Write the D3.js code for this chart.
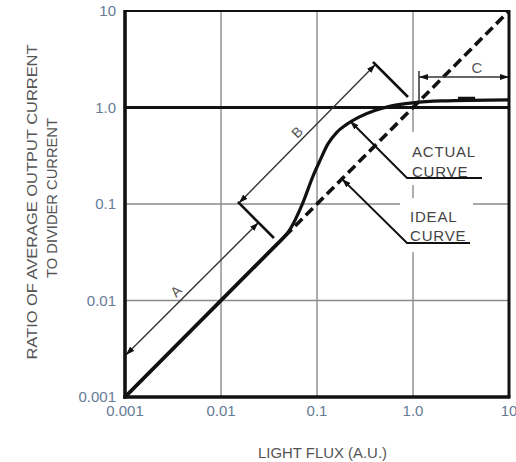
<!DOCTYPE html>
<html>
<head>
<meta charset="utf-8">
<script src="https://cdn.jsdelivr.net/npm/d3@7"></script>
<style>
body { margin: 0; background: #fff; }
text { font-family: "Liberation Sans", Arial, sans-serif; }
</style>
</head>
<body>
<svg id="chart" width="516" height="462"></svg>
<script>
"use strict";

// ticks (both axes are decades)
const tickValues = [0.001, 0.01, 0.1, 1, 10];
const xTickLabels = ["0.001", "0.01", "0.1", "1.0", "10"];
const yTickLabels = ["0.001", "0.01", "0.1", "1.0", "10"];

// ideal curve: output ratio = flux (solid part, then dashed)
const idealSolidX = [0.001, 0.046];
const idealDashX = [0.046, 10];

// actual curve
const actualX = [0.001, 0.003, 0.01, 0.02, 0.035, 0.045, 0.052, 0.071, 0.09, 0.107, 0.13, 0.16, 0.2, 0.27, 0.4, 0.6, 1.0, 2.0, 10];
const actualY = [0.001, 0.003, 0.01, 0.02, 0.035, 0.045, 0.054, 0.102, 0.19, 0.28, 0.42, 0.55, 0.66, 0.79, 0.93, 1.04, 1.12, 1.17, 1.2];
const thickBitX = [2.94, 4.43];
const thickBitY = [1.24, 1.24];

// dimension annotations (data units)
const dimA = [[0.00102, 0.00272], [0.0246, 0.0643]];
const dimB = [[0.0154, 0.1024], [0.406, 2.79]];
const extLow = [[0.0150, 0.105], [0.0356, 0.0444]];
const extHigh = [[0.383, 2.96], [0.887, 1.285]];
const extC = [[1.155, 2.39], [1.155, 1.11]];
const dimC = [[1.155, 2.07], [10, 2.07]];
const actualLeader = [[0.221, 0.724], [0.866, 0.186], [5.23, 0.186]];
const idealLeader = [[0.182, 0.182], [0.866, 0.0394], [3.93, 0.0394]];

const dimLabels = [
    { t: "A", x: 0.0034, y: 0.01254 },
    { t: "B", x: 0.0619, y: 0.557 }
];
const cLabel = { t: "C", x: 4.64, y: 2.28 };
const noteLabels = [
    { t: "ACTUAL", x: 0.976, y: 0.307 },
    { t: "CURVE", x: 0.976, y: 0.19 },
    { t: "IDEAL", x: 0.931, y: 0.0652 },
    { t: "CURVE", x: 0.931, y: 0.0414 }
];
// white boxes behind the notes (grid is broken there)
const noteBoxes = [
    [[0.733, 0.557], [4.22, 0.157]],
    [[0.733, 0.115], [4.22, 0.0318]]
];

const xScale = d3.scaleLog().domain([0.001, 10]).range([125, 509]);
const yScale = d3.scaleLog().domain([0.001, 10]).range([397, 11]);

const svg = d3.select("#chart");

const defs = svg.append("defs");
defs.append("marker")
    .attr("id", "arrow")
    .attr("markerUnits", "userSpaceOnUse")
    .attr("markerWidth", 9).attr("markerHeight", 6)
    .attr("refX", 9).attr("refY", 3)
    .attr("orient", "auto-start-reverse")
    .append("path")
    .attr("d", "M0,0 L9,3 L0,6 z")
    .attr("fill", "#111");

const pt = d => [xScale(d[0]), yScale(d[1])];
const poly = d3.line().x(d => xScale(d[0])).y(d => yScale(d[1]));

// grid
const grid = svg.append("g").attr("stroke", "#8a8a8a").attr("stroke-width", 1.4);
grid.selectAll(".vx")
    .data([0.01, 0.1, 1])
    .enter().append("line")
    .attr("x1", d => xScale(d)).attr("x2", d => xScale(d))
    .attr("y1", yScale(10)).attr("y2", yScale(0.001));
grid.selectAll(".hy")
    .data([0.01, 0.1])
    .enter().append("line")
    .attr("x1", xScale(0.001)).attr("x2", xScale(10))
    .attr("y1", d => yScale(d)).attr("y2", d => yScale(d));

// masks behind notes
svg.selectAll(".mask")
    .data(noteBoxes)
    .enter().append("rect")
    .attr("x", d => xScale(d[0][0]))
    .attr("y", d => yScale(d[0][1]))
    .attr("width", d => xScale(d[1][0]) - xScale(d[0][0]))
    .attr("height", d => yScale(d[1][1]) - yScale(d[0][1]))
    .attr("fill", "#fff");

// bold 1.0 line
svg.append("line")
    .attr("x1", xScale(0.001)).attr("x2", xScale(10))
    .attr("y1", yScale(1)).attr("y2", yScale(1))
    .attr("stroke", "#111").attr("stroke-width", 3);

// ideal curve
const ideal = d3.line().x(d => xScale(d)).y(d => yScale(d));
svg.append("path")
    .attr("d", ideal(idealSolidX))
    .attr("fill", "none").attr("stroke", "#111").attr("stroke-width", 3.6);
svg.append("path")
    .attr("d", ideal(idealDashX))
    .attr("fill", "none").attr("stroke", "#111").attr("stroke-width", 3.6)
    .attr("stroke-dasharray", "10,5");

// actual curve
const actual = actualX.map((x, i) => [x, actualY[i]]);
const curveLine = d3.line()
    .x(d => xScale(d[0])).y(d => yScale(d[1]))
    .curve(d3.curveMonotoneX);
svg.append("path")
    .attr("d", curveLine(actual))
    .attr("fill", "none").attr("stroke", "#111").attr("stroke-width", 3.2);
svg.append("path")
    .attr("d", poly(thickBitX.map((x, i) => [x, thickBitY[i]])))
    .attr("stroke", "#111").attr("stroke-width", 3.5);

// dimension lines
[dimA, dimB, dimC].forEach(d => {
    svg.append("path")
        .attr("d", poly(d))
        .attr("fill", "none").attr("stroke", "#333").attr("stroke-width", 1.4)
        .attr("marker-start", "url(#arrow)")
        .attr("marker-end", "url(#arrow)");
});
[extLow, extHigh].forEach(d => {
    svg.append("path")
        .attr("d", poly(d))
        .attr("fill", "none").attr("stroke", "#111").attr("stroke-width", 2.6);
});
svg.append("path")
    .attr("d", poly(extC))
    .attr("fill", "none").attr("stroke", "#222").attr("stroke-width", 1.4);

// leaders to the curves
[actualLeader, idealLeader].forEach(d => {
    svg.append("path")
        .attr("d", poly(d))
        .attr("fill", "none").attr("stroke", "#111").attr("stroke-width", 2)
        .attr("marker-start", "url(#arrow)");
});

// frame
const x0 = xScale(0.001), x1 = xScale(10), y0 = yScale(0.001), y1 = yScale(10);
svg.append("line").attr("x1", x0).attr("x2", x1).attr("y1", y1).attr("y2", y1)
    .attr("stroke", "#111").attr("stroke-width", 2);
svg.append("line").attr("x1", x1).attr("x2", x1).attr("y1", y1 - 1).attr("y2", y0)
    .attr("stroke", "#111").attr("stroke-width", 3);
svg.append("line").attr("x1", x0).attr("x2", x0).attr("y1", y1 - 1).attr("y2", y0 + 1.8)
    .attr("stroke", "#111").attr("stroke-width", 3.6);
svg.append("line").attr("x1", x0 - 1.8).attr("x2", x1 + 1.5).attr("y1", y0).attr("y2", y0)
    .attr("stroke", "#111").attr("stroke-width", 3.6);

// tick labels
svg.selectAll(".ytl")
    .data(tickValues)
    .enter().append("text")
    .attr("x", 116)
    .attr("y", d => yScale(d))
    .attr("dy", "0.36em")
    .attr("text-anchor", "end")
    .style("font-size", "15px")
    .attr("fill", "#667a96")
    .text((d, i) => yTickLabels[i]);
svg.selectAll(".xtl")
    .data(tickValues)
    .enter().append("text")
    .attr("x", d => xScale(d))
    .attr("y", 416)
    .attr("text-anchor", "middle")
    .style("font-size", "15px")
    .attr("fill", "#667a96")
    .text((d, i) => xTickLabels[i]);

// annotation letters
svg.selectAll(".dl")
    .data(dimLabels)
    .enter().append("text")
    .attr("transform", d => "translate(" + pt([d.x, d.y]) + ") rotate(-45)")
    .attr("text-anchor", "middle")
    .attr("dy", "0.36em")
    .style("font-size", "14px")
    .attr("fill", "#555")
    .text(d => d.t);
svg.append("text")
    .attr("x", xScale(cLabel.x)).attr("y", yScale(cLabel.y))
    .attr("text-anchor", "middle")
    .style("font-size", "15px")
    .attr("fill", "#555")
    .text(cLabel.t);

svg.selectAll(".note")
    .data(noteLabels)
    .enter().append("text")
    .attr("x", d => xScale(d.x)).attr("y", d => yScale(d.y))
    .style("font-size", "15px")
    .style("letter-spacing", "0.8px")
    .attr("fill", "#444")
    .text(d => d.t);

// axis titles
svg.append("text")
    .attr("x", 258).attr("y", 458)
    .attr("textLength", 129).attr("lengthAdjust", "spacingAndGlyphs")
    .style("font-size", "15px")
    .attr("fill", "#555")
    .text("LIGHT FLUX (A.U.)");

svg.append("text")
    .attr("transform", "translate(37,202) rotate(-90)")
    .attr("text-anchor", "middle")
    .attr("textLength", 315).attr("lengthAdjust", "spacingAndGlyphs")
    .style("font-size", "15px")
    .attr("fill", "#555")
    .text("RATIO OF AVERAGE OUTPUT CURRENT");
svg.append("text")
    .attr("transform", "translate(57,198) rotate(-90)")
    .attr("text-anchor", "middle")
    .attr("textLength", 160).attr("lengthAdjust", "spacingAndGlyphs")
    .style("font-size", "15px")
    .attr("fill", "#555")
    .text("TO DIVIDER CURRENT");
</script>
</body>
</html>
